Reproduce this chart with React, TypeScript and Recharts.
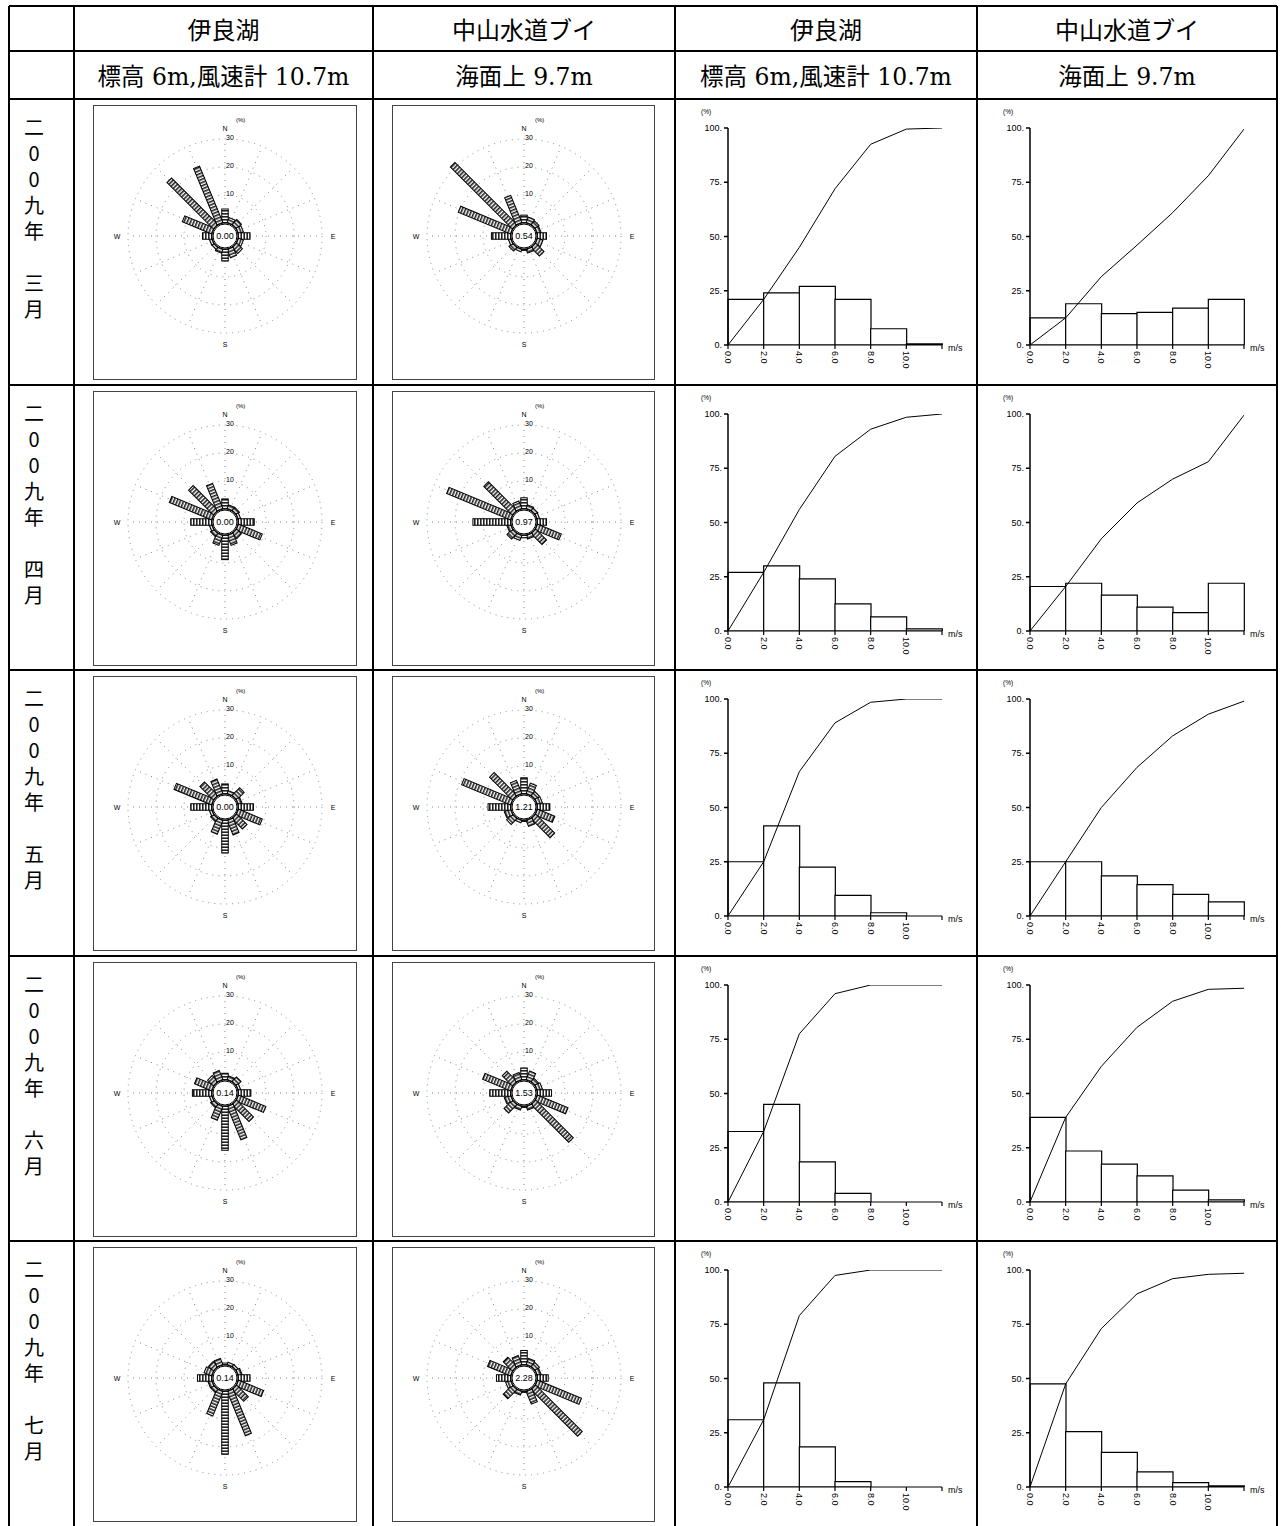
import React from 'react';
import {
  RadarChart, PolarGrid, PolarAngleAxis, PolarRadiusAxis, Radar,
  ComposedChart, Bar, Line, XAxis, YAxis,
} from 'recharts';

// 16 wind directions, N clockwise
const DIRS = ['N', 'NNE', 'NE', 'ENE', 'E', 'ESE', 'SE', 'SSE', 'S', 'SSW', 'SW', 'WSW', 'W', 'WNW', 'NW', 'NNW'];
const YEAR_CHARS = ['二', '0', '0', '九', '年'];
const MONTHS = ['三月', '四月', '五月', '六月', '七月'];
const STATIONS = ['伊良湖', '中山水道ブイ', '伊良湖', '中山水道ブイ'];
const HEIGHTS = ['標高 6m,風速計 10.7m', '海面上 9.7m', '標高 6m,風速計 10.7m', '海面上 9.7m'];
const SPEED_BINS = ['0-2', '2-4', '4-6', '6-8', '8-10', '10-'];
const SPEED_EDGES = [0, 2, 4, 6, 8, 10, 12];
const PCT_TICKS = [0, 25, 50, 75, 100];
const RING_TICKS = [0, 10, 20, 30];

// wind rose frequency (%) per direction, Mar..Jul
const irakoRose = [
  [5, 2, 2.5, 2, 4.3, 2, 3, 3.3, 4.3, 1.5, 1, 1, 3.4, 11.4, 23.5, 21.9],
  [3.6, 1.5, 1.5, 1, 5.8, 9.3, 2.5, 3.9, 8.8, 3.9, 1.5, 1, 7.6, 16.4, 12.6, 9.8],
  [3.6, 1.2, 3.9, 1.5, 5.5, 9.3, 5.3, 5.7, 11.8, 5.4, 1.5, 1, 7.6, 14.6, 6.9, 5.7],
  [2.4, 1.5, 2.3, 1, 4.6, 10.7, 8.6, 13, 15.8, 5.4, 1.5, 1, 7, 6.7, 3, 3.6],
  [0.7, 1, 1, 1.5, 4.3, 9.8, 6, 17.2, 22.6, 9.6, 1.5, 1.5, 5.2, 3, 2.5, 2.5],
];
const nakayamaRose = [
  [2.8, 2.2, 1.8, 1.5, 3.4, 2.2, 4.3, 1.5, 0.5, 1, 1.8, 1, 7, 20.3, 31.4, 10.6],
  [4, 1.5, 1.2, 1, 3.4, 9.3, 5.6, 1.5, 1, 2, 2.8, 1.5, 13.6, 24.8, 14.5, 3],
  [5.8, 4.1, 2, 2, 4.6, 6.8, 9.7, 2.4, 0.5, 1, 3, 2.5, 8.2, 19, 11.6, 5.2],
  [4.3, 3.4, 1.6, 2, 5.2, 11.9, 19.1, 1.5, 0.5, 1.5, 4.3, 2.5, 7.6, 10.9, 5.2, 2.8],
  [5.2, 2.5, 2, 1.5, 4, 17.1, 23.6, 5, 0.5, 1.5, 4.7, 2, 5.2, 9, 4.7, 3.6],
];
const irakoCalm = [0, 0, 0, 0.14, 0.14];
const nakayamaCalm = [0.54, 0.97, 1.21, 1.53, 2.28];

// wind speed histogram (%) per 2 m/s bin, and cumulative (%) at bin edges
const irakoHist = [
  [21, 24, 27, 21, 7.5, 0.5],
  [27, 30, 24, 12.5, 6.5, 1],
  [25, 41.5, 22.5, 9.5, 1.5, 0],
  [32.5, 45, 18.5, 4, 0, 0],
  [31, 48, 18.5, 2.5, 0, 0],
];
const irakoCum = [
  [0, 21, 45, 72, 92.5, 99.5, 100],
  [0, 27, 56, 80.5, 93, 98.5, 100],
  [0, 25, 66.5, 89, 98.5, 100, 100],
  [0, 32.5, 77.5, 96, 100, 100, 100],
  [0, 31, 79, 97.5, 100, 100, 100],
];
const nakayamaHist = [
  [12.5, 19, 14.5, 15, 17, 21],
  [20.5, 22, 16.5, 11, 8.5, 22],
  [25, 25, 18.5, 14.5, 10, 6.5],
  [39, 23.5, 17.5, 12, 5.5, 1],
  [47.5, 25.5, 16, 7, 2, 0.5],
];
const nakayamaCum = [
  [0, 12.5, 31.5, 46, 61, 78, 99.5],
  [0, 20.5, 42.5, 59, 70, 78, 99.5],
  [0, 25, 50, 68.5, 83, 93, 99],
  [0, 39, 62.5, 80.5, 92.5, 98, 98.5],
  [0, 47.5, 73, 89, 96, 98, 98.5],
];

// table layout
const COL_X = [9, 74, 373, 675, 977, 1277];
const ROW_Y = [6, 51, 99, 385, 670, 956, 1241];
const PAGE_H = 1526;

const SANS = '"Liberation Sans", Arial, sans-serif';
const CJK = '"Noto Sans CJK JP", sans-serif';

// wind rose geometry
const ROSE_H = 275;
const RCX = 132;
const RCY = 131;
const R_IN = 13;
const R_OUT = 97;

const DIR_LABELS: Record<string, string> = { N: 'N', E: 'E', S: 'S', W: 'W' };

const DirTick = (props: any) => {
  const { x, y, payload } = props;
  const lab = DIR_LABELS[payload.value];
  if (!lab) return <g />;
  return (
    <g>
      <text x={x} y={y} textAnchor="middle" dominantBaseline="central" fontSize={7} fontFamily={SANS} fill="#000">{lab}</text>
      {lab === 'N' && (
        <text x={x + 11} y={y - 6} fontSize={6} fontFamily={SANS} fill="#000">(%)</text>
      )}
    </g>
  );
};

const RingTick = (props: any) => {
  const { x, y, payload } = props;
  if (!payload.value) return <g />;
  return (
    <text x={x + 1} y={y - 2} dominantBaseline="central" fontSize={7} fontFamily={SANS} fill="#000">{payload.value}</text>
  );
};

// draws a rose bar from the calm circle out to the radar point
const RoseBar = (props: any) => {
  const { cx, cy, index } = props;
  const dx = cx - RCX;
  const dy = cy - RCY;
  const len = Math.hypot(dx, dy);
  const ang = (Math.atan2(-dy, dx) * 180) / Math.PI;
  const h = Math.max(0, len - R_IN);
  return (
    <g key={`rb-${index}`} transform={`rotate(${90 - ang} ${RCX} ${RCY})`}>
      <rect x={RCX - 3.25} y={RCY - len} width={6.5} height={h} fill="url(#roseHatch)" stroke="#000" strokeWidth={1} />
    </g>
  );
};

const Rose = ({ values, calm, left, top, width }: { values: number[]; calm: number; left: number; top: number; width: number }) => {
  const data = DIRS.map((dir, i) => ({ dir, v: values[i] }));
  return (
    <div style={{ position: 'absolute', left, top, width, height: ROSE_H, border: '1px solid #444', boxSizing: 'border-box' }}>
      <div style={{ position: 'absolute', left: -1, top: -1 }}>
        <RadarChart width={width} height={ROSE_H} cx={RCX} cy={RCY} innerRadius={R_IN} outerRadius={R_OUT}
          data={data} startAngle={90} endAngle={-270} margin={{ top: 0, right: 0, bottom: 0, left: 0 }}>
          <PolarGrid gridType="circle" stroke="#888" strokeDasharray="1 5" strokeWidth={1} />
          <PolarAngleAxis dataKey="dir" tick={DirTick} tickSize={11} tickLine={false} axisLine={false} />
          <PolarRadiusAxis angle={90} type="number" domain={[0, 30]} ticks={RING_TICKS} tickCount={4}
            tick={RingTick} axisLine={false} tickLine={false} allowDataOverflow />
          <Radar dataKey="v" stroke="none" fill="none" dot={RoseBar} isAnimationActive={false} />
          <circle cx={RCX} cy={RCY} r={12} fill="#fff" stroke="#000" strokeWidth={1} />
          <text x={RCX} y={RCY} textAnchor="middle" dominantBaseline="central" fontSize={9} fontFamily={SANS} fill="#000">
            {calm.toFixed(2)}
          </text>
        </RadarChart>
      </div>
    </div>
  );
};

const PctTick = (props: any) => {
  const { x, y, payload } = props;
  return (
    <g>
      <text x={x} y={y} textAnchor="end" dominantBaseline="central" fontSize={9} fontFamily={SANS} fill="#000">{`${payload.value}.`}</text>
      {payload.value === 100 && (
        <text x={x - 21} y={y - 14} fontSize={6.5} fontFamily={SANS} fill="#000">(%)</text>
      )}
    </g>
  );
};

const SpeedTick = (props: any) => {
  const { x, y, payload } = props;
  if (payload.value === 12) {
    return <text x={x + 6} y={y - 3} dominantBaseline="central" fontSize={9} fontFamily={SANS} fill="#000">m/s</text>;
  }
  return (
    <text x={x} y={y} transform={`rotate(90 ${x} ${y})`} textAnchor="start" dominantBaseline="central"
      fontSize={9} fontFamily={SANS} fill="#000">{payload.value.toFixed(1)}</text>
  );
};

const Hist = ({ bars, cum, left, top, width }: { bars: number[]; cum: number[]; left: number; top: number; width: number }) => {
  const binData = SPEED_BINS.map((bin, i) => ({ bin, pct: bars[i] }));
  const cumData = SPEED_EDGES.map((spd, i) => ({ spd, cum: cum[i] }));
  return (
    <div style={{ position: 'absolute', left, top }}>
      <ComposedChart width={width} height={285} data={binData} barCategoryGap={0} barGap={0}
        margin={{ top: 29, right: width - 267, bottom: 0, left: 0 }}>
        <XAxis xAxisId="spd" dataKey="spd" type="number" domain={[0, 12]} ticks={SPEED_EDGES} interval={0}
          height={39} tick={SpeedTick} tickSize={4} stroke="#000" strokeWidth={1.2} allowDataOverflow />
        <XAxis xAxisId="bin" dataKey="bin" type="category" hide height={0} />
        <YAxis domain={[0, 100]} ticks={PCT_TICKS} interval={0} width={53} tick={PctTick} tickSize={4}
          stroke="#000" strokeWidth={1.5} allowDataOverflow />
        <Bar xAxisId="bin" dataKey="pct" fill="#fff" stroke="#000" strokeWidth={1.2} isAnimationActive={false} />
        <Line xAxisId="spd" data={cumData} dataKey="cum" stroke="#000" strokeWidth={1} dot={false} isAnimationActive={false} />
      </ComposedChart>
    </div>
  );
};

const hLine = (y: number, w: number) => (
  <div key={`h${y}`} style={{ position: 'absolute', left: COL_X[0], top: y - w / 2, width: COL_X[5] - COL_X[0], height: w, background: '#000' }} />
);
const vLine = (x: number, w: number) => (
  <div key={`v${x}`} style={{ position: 'absolute', left: x - w / 2, top: ROW_Y[0], width: w, height: PAGE_H - ROW_Y[0], background: '#000' }} />
);

export default function App() {
  return (
    <div style={{ position: 'absolute', left: 0, top: 0, width: 1281, height: PAGE_H, background: '#fff', overflow: 'hidden' }}>
      <svg width={0} height={0} style={{ position: 'absolute' }}>
        <defs>
          <pattern id="roseHatch" width={6} height={3} patternUnits="userSpaceOnUse">
            <rect width={6} height={3} fill="#fff" />
            <rect width={6} height={1.6} fill="#222" />
          </pattern>
        </defs>
      </svg>

      {/* header rows */}
      {STATIONS.map((s, c) => (
        <div key={`st${c}`} style={{
          position: 'absolute', left: COL_X[c + 1], top: ROW_Y[0], width: COL_X[c + 2] - COL_X[c + 1], height: ROW_Y[1] - ROW_Y[0],
          display: 'flex', alignItems: 'center', justifyContent: 'center', fontFamily: CJK, fontSize: 24, color: '#000',
        }}>{s}</div>
      ))}
      {HEIGHTS.map((s, c) => (
        <div key={`ht${c}`} style={{
          position: 'absolute', left: COL_X[c + 1], top: ROW_Y[1], width: COL_X[c + 2] - COL_X[c + 1], height: ROW_Y[2] - ROW_Y[1],
          display: 'flex', alignItems: 'center', justifyContent: 'center', fontFamily: `"DejaVu Serif", ${CJK}`, fontSize: 23.5, color: '#000',
          whiteSpace: 'nowrap',
        }}>{s}</div>
      ))}

      {MONTHS.map((m, r) => {
        const top = ROW_Y[r + 2];
        const chars = [...YEAR_CHARS, ' ', ...m.split('')];
        return (
          <React.Fragment key={`row${r}`}>
            <div style={{ position: 'absolute', left: COL_X[0], top: top + 15, width: 50 }}>
              {chars.map((ch, k) => (
                <div key={k} style={{ height: 26, lineHeight: '26px', textAlign: 'center', fontFamily: CJK, fontSize: 20, color: '#000' }}>
                  {ch === ' ' ? '\u00a0' : ch}
                </div>
              ))}
            </div>
            <Rose values={irakoRose[r]} calm={irakoCalm[r]} left={COL_X[1] + 19} top={top + 6} width={264} />
            <Rose values={nakayamaRose[r]} calm={nakayamaCalm[r]} left={COL_X[2] + 19} top={top + 6} width={263} />
            <Hist bars={irakoHist[r]} cum={irakoCum[r]} left={COL_X[3]} top={top} width={COL_X[4] - COL_X[3]} />
            <Hist bars={nakayamaHist[r]} cum={nakayamaCum[r]} left={COL_X[4]} top={top} width={COL_X[5] - COL_X[4]} />
          </React.Fragment>
        );
      })}

      {/* table grid */}
      {ROW_Y.map((y, i) => hLine(y, i === 0 ? 2.5 : 2))}
      {COL_X.map((x, i) => vLine(x, i === 0 || i === 5 ? 2.5 : 2))}
    </div>
  );
}
